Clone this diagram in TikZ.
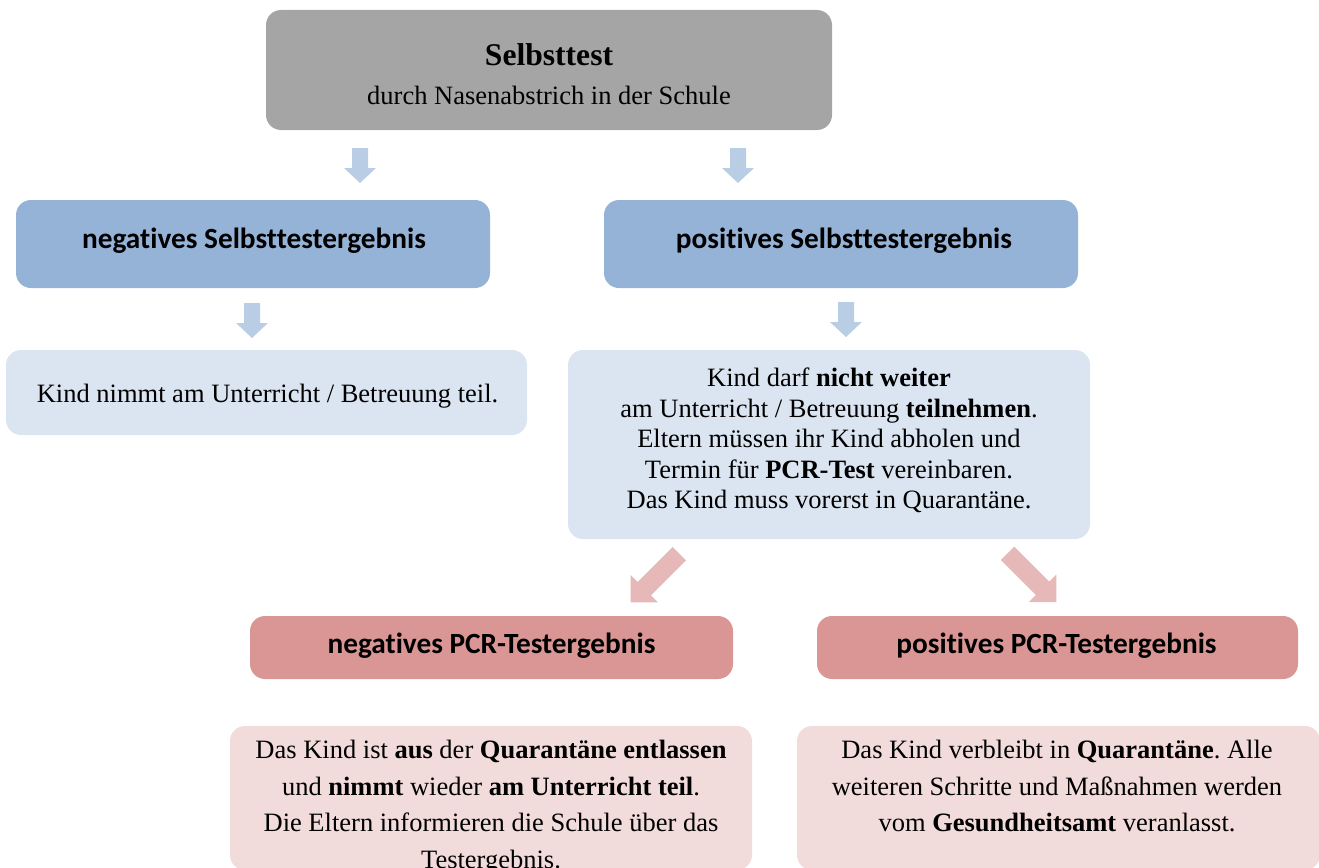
\documentclass[tikz,border=0pt]{standalone}
\usepackage{fontspec}
\setmainfont{Liberation Serif}
\newfontfamily\hdrfont[Ligatures=NoCommon]{Carlito}
\definecolor{cGray}{HTML}{A5A5A5}
\definecolor{cHead}{HTML}{95B3D7}
\definecolor{cLight}{HTML}{DBE5F1}
\definecolor{cBArr}{HTML}{B9CDE5}
\definecolor{cPArr}{HTML}{E6B9B8}
\definecolor{cRed}{HTML}{D99694}
\definecolor{cPale}{HTML}{F2DCDB}
\frenchspacing
\tikzset{
  box/.style={rounded corners=15pt, inner sep=0pt, draw=none},
  body/.style={font=\fontsize{26.5}{30.4}\selectfont, align=center, inner sep=0pt},
  palebody/.style={font=\fontsize{26.5}{36.5}\selectfont, align=center, inner sep=0pt},
  line/.style={font=\fontsize{26.5}{30.4}\selectfont, inner sep=0pt, anchor=base},
  hdr/.style={font=\hdrfont\bfseries\fontsize{29.3}{34}\selectfont, inner sep=0pt, anchor=base},
  blkb/.pic={\fill[cBArr] (-8,0) -- (8,0) -- (8,20) -- (16,20) -- (0,35) -- (-16,20) -- (-8,20) -- cycle;},
  blkp/.pic={\fill[cPArr] (-9.5,0) -- (9.5,0) -- (9.5,49.5) -- (19.5,49.5) -- (0,69) -- (-19.5,49.5) -- (-9.5,49.5) -- cycle;},
}
\begin{document}
\begin{tikzpicture}[x=1pt,y=-1pt]
\useasboundingbox (0,0) rectangle (1319,867);
\clip (0,0) rectangle (1319,867);
% boxes
\node[box, fill=cGray, minimum width=566pt, minimum height=120pt] (selbst) at (549,70) {};
\node[box, fill=cHead, minimum width=474pt, minimum height=88pt] (negS) at (253,244) {};
\node[box, fill=cHead, minimum width=474pt, minimum height=88pt] (posS) at (841,244) {};
\node[box, fill=cLight, minimum width=521pt, minimum height=85pt] (negA) at (266.5,392.5) {};
\node[box, fill=cLight, minimum width=522pt, minimum height=189pt] (posA) at (829,444.5) {};
\node[box, fill=cRed, minimum width=483pt, minimum height=63pt] (negP) at (491.5,647.5) {};
\node[box, fill=cRed, minimum width=481pt, minimum height=63pt] (posP) at (1057.5,647.5) {};
\node[box, fill=cPale, minimum width=522pt, minimum height=144pt] (negR) at (491,798) {};
\node[box, fill=cPale, minimum width=523pt, minimum height=144pt] (posR) at (1058.5,798) {};
% texts
\node[anchor=base, inner sep=0pt, font=\bfseries\fontsize{31.6}{36}\selectfont] (selbstT) at (549,66) {Selbsttest};
\node[line] (selbstS) at (549,104) {durch Nasenabstrich in der Schule};
\node[hdr] (negST) at (254,248) {negatives Selbsttestergebnis};
\node[hdr] (posST) at (844,248) {positives Selbsttestergebnis};
\node[line] (negAT) at (267.5,402) {Kind nimmt am Unterricht / Betreuung teil.};
\node[body, anchor=north] (posAT) at (829,368) {Kind darf \textbf{nicht weiter}\\am Unterricht / Betreuung \textbf{teilnehmen}.\\Eltern müssen ihr Kind abholen und\\Termin für \textbf{PCR-Test} vereinbaren.\\Das Kind muss vorerst in Quarantäne.};
\node[hdr] (negPT) at (491.5,653) {negatives PCR-Testergebnis};
\node[hdr] (posPT) at (1056.5,653) {positives PCR-Testergebnis};
\node[palebody, anchor=north] (negRT) at (491,740) {Das Kind ist \textbf{aus} der \textbf{Quarantäne entlassen}\\und \textbf{nimmt} wieder \textbf{am Unterricht teil}.\\Die Eltern informieren die Schule über das\\Testergebnis.};
\node[palebody, anchor=north] (posRT) at (1057,740) {Das Kind verbleibt in \textbf{Quarantäne}. Alle\\weiteren Schritte und Maßnahmen werden\\vom \textbf{Gesundheitsamt} veranlasst.};
% block arrows (connectors)
\coordinate (a1) at (360,148);
\coordinate (a2) at (738,148);
\coordinate (a3) at (252,303);
\coordinate (a4) at (846,302);
\coordinate (p1) at (679.3,553.7);
\coordinate (p2) at (1007.5,553.3);
\pic at (a1) {blkb};
\pic at (a2) {blkb};
\pic at (a3) {blkb};
\pic at (a4) {blkb};
\pic[rotate=-45] at (p1) {blkp};
\pic[rotate=45] at (p2) {blkp};
\end{tikzpicture}
\end{document}
